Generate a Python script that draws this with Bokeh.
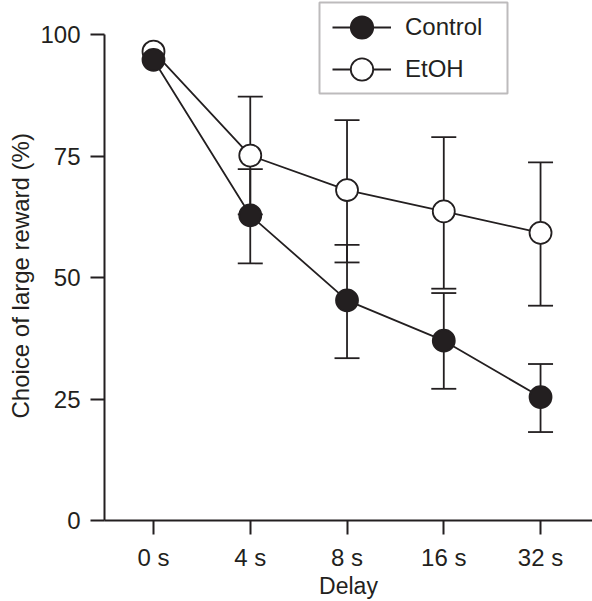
import math
from bokeh.plotting import figure
from bokeh.models import (ColumnDataSource, Whisker, TeeHead, FixedTicker, Legend,
                          LegendItem, BoxAnnotation, Title, Range1d)
from bokeh.embed import file_html
from bokeh.resources import INLINE

# ---- data ----
delays = ["0 s", "4 s", "8 s", "16 s", "32 s"]
control_mean = [94.8, 62.8, 45.3, 37.0, 25.4]
control_upper = [float("nan"), 72.3, 56.7, 46.8, 32.2]
control_lower = [float("nan"), 52.9, 33.4, 27.1, 18.2]
etoh_mean = [96.5, 75.1, 68.0, 63.6, 59.2]
etoh_upper = [float("nan"), 87.2, 82.4, 78.9, 73.7]
etoh_lower = [float("nan"), 63.0, 53.1, 47.7, 44.2]
y_ticks = [0, 25, 50, 75, 100]

INK = "#231f20"
FONT = "Liberation Sans"
FS = "24px"
FS_T = "23px"

xpos = list(range(len(delays)))
ctrl = ColumnDataSource(dict(x=xpos, y=control_mean, up=control_upper, lo=control_lower))
etoh = ColumnDataSource(dict(x=xpos, y=etoh_mean, up=etoh_upper, lo=etoh_lower))

p = figure(width=592, height=601, output_backend="svg", toolbar_location=None,
           x_range=Range1d(-0.5065, 4.537), y_range=Range1d(0, 107.0),
           min_border_left=104, min_border_right=0, min_border_top=0, min_border_bottom=81)
p.outline_line_color = None
p.grid.visible = False
p.background_fill_color = "white"

for src in (ctrl, etoh):
    w = Whisker(source=src, base="x", upper="up", lower="lo", line_color=INK, line_width=1.8,
                upper_head=TeeHead(size=25, line_color=INK, line_width=1.8),
                lower_head=TeeHead(size=25, line_color=INK, line_width=1.8))
    p.add_layout(w)

l_ctrl = p.line("x", "y", source=ctrl, line_color=INK, line_width=1.8)
l_etoh = p.line("x", "y", source=etoh, line_color=INK, line_width=1.8)
s_etoh = p.scatter("x", "y", source=etoh, size=22, marker="circle", fill_color="white",
                   line_color=INK, line_width=1.8)
s_ctrl = p.scatter("x", "y", source=ctrl, size=22, marker="circle", fill_color=INK,
                   line_color=INK, line_width=1.8)

# axes
p.xaxis.ticker = FixedTicker(ticks=xpos)
p.xaxis.major_label_overrides = {i: d for i, d in zip(xpos, delays)}
p.yaxis.ticker = FixedTicker(ticks=y_ticks)
p.yaxis.bounds = (0, 100)
for ax in (p.xaxis[0], p.yaxis[0]):
    ax.axis_line_color = INK
    ax.axis_line_width = 2
    ax.major_tick_line_color = INK
    ax.major_tick_line_width = 2
    ax.major_tick_in = 0
    ax.minor_tick_line_color = None
    ax.major_label_text_font = FONT
    ax.major_label_text_font_size = FS
    ax.major_label_text_color = INK
p.xaxis.major_tick_out = 14
p.xaxis.major_label_standoff = 9
p.yaxis.major_tick_out = 14
p.yaxis.major_label_standoff = 10
p.xaxis.axis_label = "Delay"
p.xaxis.axis_label_text_font = FONT
p.xaxis.axis_label_text_font_size = FS_T
p.xaxis.axis_label_text_font_style = "normal"
p.xaxis.axis_label_text_color = INK
p.xaxis.axis_label_standoff = -1

ytitle = Title(text="Choice of large reward (%)", align="left", offset=102,
               text_font=FONT, text_font_size="24px", text_font_style="normal",
               text_color=INK, standoff=7)
p.add_layout(ytitle, "left")

# legend frame + legends (one per row)
frame_box = BoxAnnotation(left=215, right=403, top=518, bottom=427,
                          left_units="screen", right_units="screen",
                          top_units="screen", bottom_units="screen",
                          fill_alpha=0, line_color=INK, line_width=2, level="overlay")
p.add_layout(frame_box)

common = dict(padding=0, spacing=0, glyph_width=59, glyph_height=56, label_standoff=14,
              label_text_font=FONT, label_text_font_size=FS, label_text_color=INK,
              border_line_alpha=0, background_fill_alpha=0, margin=0)
leg1 = Legend(items=[LegendItem(label="Control", renderers=[l_ctrl, s_ctrl])],
              location=(228, 465), **common)
leg2 = Legend(items=[LegendItem(label="EtOH", renderers=[l_etoh, s_etoh])],
              location=(228, 423), **common)
p.add_layout(leg1)
p.add_layout(leg2)

open("out.html", "w").write(file_html(p, INLINE))
